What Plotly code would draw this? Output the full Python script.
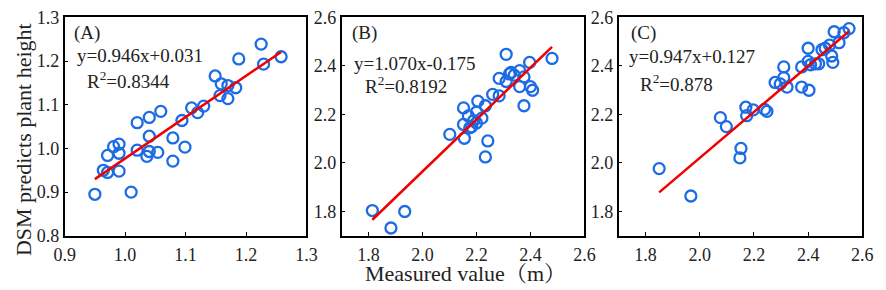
import plotly.graph_objects as go

W, H = 886, 290

# Panel A data
a_x = [0.950, 1.010, 0.964, 0.971, 0.990, 0.971, 0.981, 0.990, 0.990, 1.020, 1.020, 1.040, 1.040,
       1.036, 1.040, 1.054, 1.059, 1.079, 1.079, 1.099, 1.094, 1.110, 1.120, 1.130, 1.149, 1.159,
       1.170, 1.183, 1.157, 1.170, 1.188, 1.225, 1.229, 1.258]
a_y = [0.895, 0.900, 0.950, 0.945, 0.948, 0.984, 1.004, 1.010, 0.989, 0.996, 1.059, 1.071, 1.028,
       0.982, 0.993, 0.991, 1.085, 1.024, 0.971, 1.003, 1.064, 1.093, 1.082, 1.097, 1.166, 1.148,
       1.144, 1.139, 1.121, 1.114, 1.205, 1.239, 1.193, 1.210]
a_fit = (0.946, 0.031)

# Panel B data
b_x = [1.814, 1.883, 1.934, 2.101, 2.152, 2.152, 2.155, 2.170, 2.182, 2.200, 2.200, 2.205, 2.220,
       2.233, 2.233, 2.242, 2.260, 2.284, 2.284, 2.310, 2.310, 2.322, 2.328, 2.340, 2.360, 2.360,
       2.376, 2.376, 2.397, 2.400, 2.408, 2.480, 2.190, 2.175]
b_y = [1.804, 1.732, 1.800, 2.118, 2.227, 2.159, 2.102, 2.194, 2.149, 2.165, 2.210, 2.255, 2.185,
       2.236, 2.025, 2.091, 2.283, 2.277, 2.349, 2.448, 2.336, 2.367, 2.373, 2.362, 2.381, 2.315,
       2.355, 2.236, 2.415, 2.315, 2.300, 2.431, 2.175, 2.145]
b_fit = (1.070, -0.175)

# Panel C data
c_x = [1.850, 1.967, 2.076, 2.098, 2.152, 2.148, 2.170, 2.173, 2.197, 2.239, 2.248, 2.278, 2.297,
       2.310, 2.310, 2.322, 2.376, 2.376, 2.403, 2.400, 2.400, 2.409, 2.427, 2.439, 2.451, 2.463,
       2.479, 2.487, 2.491, 2.496, 2.514, 2.532, 2.551]
c_y = [1.977, 1.864, 2.187, 2.150, 2.060, 2.021, 2.230, 2.195, 2.219, 2.221, 2.213, 2.332, 2.326,
       2.396, 2.352, 2.313, 2.396, 2.313, 2.300, 2.473, 2.419, 2.405, 2.409, 2.409, 2.467, 2.473,
       2.486, 2.441, 2.415, 2.541, 2.496, 2.537, 2.554]
c_fit = (0.947, 0.127)

panels = [
    dict(x=a_x, y=a_y, fit=a_fit, xr=[0.9, 1.3], yr=[0.8, 1.3],
         xt=[0.9, 1.0, 1.1, 1.2, 1.3], yt=[0.8, 0.9, 1.0, 1.1, 1.2, 1.3],
         label="(A)", eq="y=0.946x+0.031", r2="R<sup>2</sup>=0.8344",
         dom=(55, 303), lab=(63, 25), eqp=(66, 49), r2p=(76, 75)),
    dict(x=b_x, y=b_y, fit=b_fit, xr=[1.7, 2.6], yr=[1.7, 2.6],
         xt=[1.8, 2.0, 2.2, 2.4, 2.6], yt=[1.8, 2.0, 2.2, 2.4, 2.6],
         label="(B)", eq="y=1.070x-0.175", r2="R<sup>2</sup>=0.8192",
         dom=(339, 588), lab=(348, 25), eqp=(350, 57), r2p=(361, 81)),
    dict(x=c_x, y=c_y, fit=c_fit, xr=[1.7, 2.6], yr=[1.7, 2.6],
         xt=[1.8, 2.0, 2.2, 2.4, 2.6], yt=[1.8, 2.0, 2.2, 2.4, 2.6],
         label="(C)", eq="y=0.947x+0.127", r2="R<sup>2</sup>=0.878",
         dom=(623, 873), lab=(634, 25), eqp=(632, 50), r2p=(643, 78)),
]

FONT = "Liberation Serif"
BLUE = "rgb(28,108,230)"
top, bottom = 8, 242.5

fig = go.Figure()
annotations = []
for i, p in enumerate(panels):
    n = "" if i == 0 else str(i + 1)
    xa, ya = "x" + n, "y" + n
    fig.add_trace(go.Scatter(
        x=p["x"], y=p["y"], mode="markers", xaxis=xa, yaxis=ya,
        marker=dict(symbol="circle-open", size=11, color=BLUE, line=dict(width=2.3, color=BLUE)),
        showlegend=False))
    x0, x1 = min(p["x"]), max(p["x"])
    k, b = p["fit"]
    fig.add_trace(go.Scatter(
        x=[x0, x1], y=[k * x0 + b, k * x1 + b], mode="lines", xaxis=xa, yaxis=ya,
        line=dict(color="rgb(240,0,0)", width=2.5), showlegend=False))
    common = dict(showline=True, linecolor="black", linewidth=1.5, mirror=True,
                  ticks="inside", ticklen=4, tickcolor="black", showgrid=False, zeroline=False,
                  ticklabeloverflow="allow",
                  tickfont=dict(family=FONT, size=18, color="#222"))
    axx = dict(domain=[p["dom"][0] / W, p["dom"][1] / W], range=p["xr"], tickvals=p["xt"],
               ticktext=[f"{v:.1f}" for v in p["xt"]], anchor=ya, ticklabelstandoff=2, **common)
    axy = dict(domain=[1 - bottom / H, 1 - top / H], range=p["yr"], tickvals=p["yt"],
               ticktext=[f"{v:.1f}" for v in p["yt"]], anchor=xa, **common)
    fig.update_layout({("xaxis" + n): axx, ("yaxis" + n): axy})
    for txt, pos in [(p["label"], p["lab"]), (p["eq"], p["eqp"]), (p["r2"], p["r2p"])]:
        annotations.append(dict(text=txt, x=pos[0] / W, y=1 - pos[1] / H, xref="paper", yref="paper",
                                xanchor="left", yanchor="middle", showarrow=False,
                                font=dict(family=FONT, size=19, color="#222")))

annotations.append(dict(text="DSM predicts plant height", x=13 / W, y=1 - 139 / H,
                        xref="paper", yref="paper", textangle=-90, showarrow=False,
                        xanchor="center", yanchor="middle",
                        font=dict(family=FONT, size=22, color="#222")))
annotations.append(dict(text="Measured value（m）", x=466 / W, y=0,
                        xref="paper", yref="paper", showarrow=False,
                        xanchor="center", yanchor="bottom", yshift=-8,
                        font=dict(family="Liberation Serif, Noto Serif CJK SC, Noto Sans CJK SC", size=22, color="#222")))

fig.update_layout(width=W, height=H, margin=dict(l=0, r=0, t=0, b=0),
                  paper_bgcolor="white", plot_bgcolor="white", annotations=annotations)

fig.write_html("out.html", config={"displayModeBar": False},
               post_script="document.body.style.margin='0';document.body.style.overflow='hidden';")
